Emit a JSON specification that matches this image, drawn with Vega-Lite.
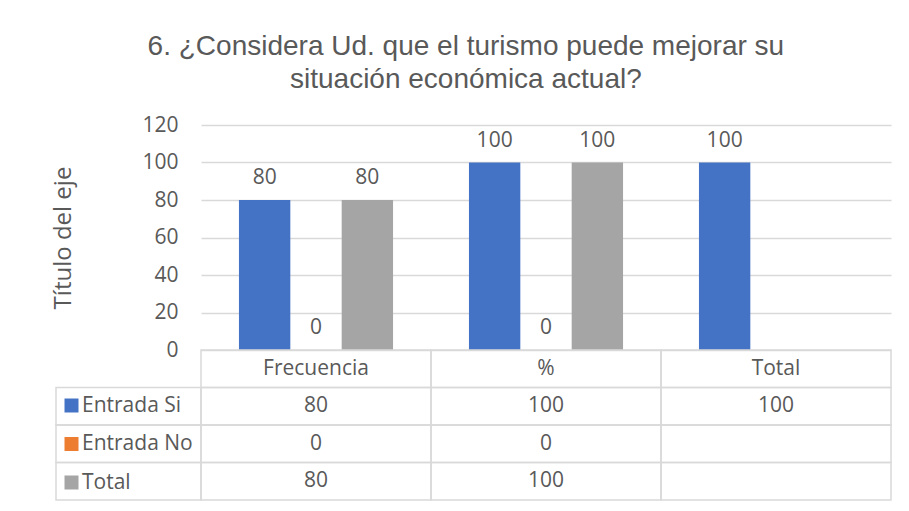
{
  "$schema": "https://vega.github.io/schema/vega-lite/v6.json",
  "padding": {"left": 51, "top": 33, "right": 5, "bottom": 5},
  "background": "white",
  "config": {"view": {"stroke": null}, "font": "Open Sans"},
  "title": {
    "text": ["6. ¿Considera Ud. que el turismo puede mejorar su", "situación económica actual?"],
    "font": "Liberation Sans",
    "fontSize": 28,
    "fontWeight": "normal",
    "color": "#595959",
    "lineHeight": 33,
    "anchor": "middle",
    "dx": -6,
    "offset": 20
  },
  "columns": 2,
  "spacing": 0,
  "align": "each",
  "bounds": "flush",
  "concat": [
    {
      "width": 145,
      "height": 225,
      "data": {"values": []},
      "mark": "rule",
      "encoding": {}
    },
    {
      "width": 690,
      "height": 225,
      "data": {
        "values": [
          {"categoria": "Frecuencia", "serie": "Entrada Si", "valor": 80},
          {"categoria": "Frecuencia", "serie": "Entrada No", "valor": 0},
          {"categoria": "Frecuencia", "serie": "Total", "valor": 80},
          {"categoria": "%", "serie": "Entrada Si", "valor": 100},
          {"categoria": "%", "serie": "Entrada No", "valor": 0},
          {"categoria": "%", "serie": "Total", "valor": 100},
          {"categoria": "Total", "serie": "Entrada Si", "valor": 100}
        ]
      },
      "encoding": {
        "x": {
          "field": "categoria",
          "type": "nominal",
          "sort": ["Frecuencia", "%", "Total"],
          "axis": null,
          "scale": {"paddingInner": 0.33, "paddingOuter": 0.165}
        },
        "xOffset": {
          "field": "serie",
          "type": "nominal",
          "sort": ["Entrada Si", "Entrada No", "Total"],
          "scale": {"domain": ["Entrada Si", "Entrada No", "Total"], "paddingInner": 0, "paddingOuter": 0}
        },
        "y": {
          "field": "valor",
          "type": "quantitative",
          "scale": {"domain": [0, 120]},
          "axis": {
            "values": [0, 20, 40, 60, 80, 100, 120],
            "grid": true,
            "gridColor": "#D9D9D9",
            "gridWidth": 1.5,
            "domain": false,
            "ticks": false,
            "labelPadding": 23,
            "labelFontSize": 21,
            "labelColor": "#595959",
            "title": "Título del eje",
            "titleFontSize": 24,
            "titleFontWeight": "normal",
            "titleColor": "#595959",
            "titlePadding": 66
          }
        }
      },
      "layer": [
        {
          "mark": {"type": "bar"},
          "encoding": {
            "color": {
              "field": "serie",
              "type": "nominal",
              "scale": {"domain": ["Entrada Si", "Entrada No", "Total"], "range": ["#4472C4", "#ED7D31", "#A5A5A5"]},
              "legend": {
                "orient": "none",
                "legendX": 5,
                "legendY": 270,
                "title": null,
                "symbolType": "square",
                "symbolSize": 196,
                "symbolStrokeWidth": 0,
                "labelFontSize": 21,
                "labelColor": "#595959",
                "labelFont": "Open Sans",
                "labelOffset": 0,
                "rowPadding": 16.5,
                "padding": 0
              }
            }
          }
        },
        {
          "mark": {"type": "text", "dy": -16, "baseline": "alphabetic", "fontSize": 21, "color": "#595959"},
          "encoding": {"text": {"field": "valor", "type": "quantitative"}}
        }
      ]
    },
    {
      "width": 145,
      "height": 150,
      "data": {
        "values": [
          {"fila": "Entrada Si", "columna": "leyenda"},
          {"fila": "Entrada No", "columna": "leyenda"},
          {"fila": "Total", "columna": "leyenda"}
        ]
      },
      "mark": {"type": "rect", "fill": "transparent", "stroke": "#D9D9D9", "strokeWidth": 1.5},
      "encoding": {
        "y": {
          "field": "fila",
          "type": "nominal",
          "scale": {"domain": ["encabezado", "Entrada Si", "Entrada No", "Total"], "paddingInner": 0, "paddingOuter": 0},
          "axis": null
        },
        "x": {
          "field": "columna",
          "type": "nominal",
          "scale": {"paddingInner": 0, "paddingOuter": 0},
          "axis": null
        }
      }
    },
    {
      "width": 690,
      "height": 150,
      "data": {
        "values": [
          {"columna": "Frecuencia", "fila": "encabezado", "texto": "Frecuencia"},
          {"columna": "%", "fila": "encabezado", "texto": "%"},
          {"columna": "Total", "fila": "encabezado", "texto": "Total"},
          {"columna": "Frecuencia", "fila": "Entrada Si", "texto": "80"},
          {"columna": "%", "fila": "Entrada Si", "texto": "100"},
          {"columna": "Total", "fila": "Entrada Si", "texto": "100"},
          {"columna": "Frecuencia", "fila": "Entrada No", "texto": "0"},
          {"columna": "%", "fila": "Entrada No", "texto": "0"},
          {"columna": "Total", "fila": "Entrada No", "texto": ""},
          {"columna": "Frecuencia", "fila": "Total", "texto": "80"},
          {"columna": "%", "fila": "Total", "texto": "100"},
          {"columna": "Total", "fila": "Total", "texto": ""}
        ]
      },
      "encoding": {
        "x": {
          "field": "columna",
          "type": "nominal",
          "scale": {"domain": ["Frecuencia", "%", "Total"], "paddingInner": 0, "paddingOuter": 0},
          "axis": null
        },
        "y": {
          "field": "fila",
          "type": "nominal",
          "scale": {"domain": ["encabezado", "Entrada Si", "Entrada No", "Total"], "paddingInner": 0, "paddingOuter": 0},
          "axis": null
        }
      },
      "layer": [
        {"mark": {"type": "rect", "fill": "transparent", "stroke": "#D9D9D9", "strokeWidth": 1.5}},
        {
          "mark": {"type": "text", "fontSize": 21, "color": "#595959"},
          "encoding": {"text": {"field": "texto", "type": "nominal"}}
        }
      ]
    }
  ]
}
